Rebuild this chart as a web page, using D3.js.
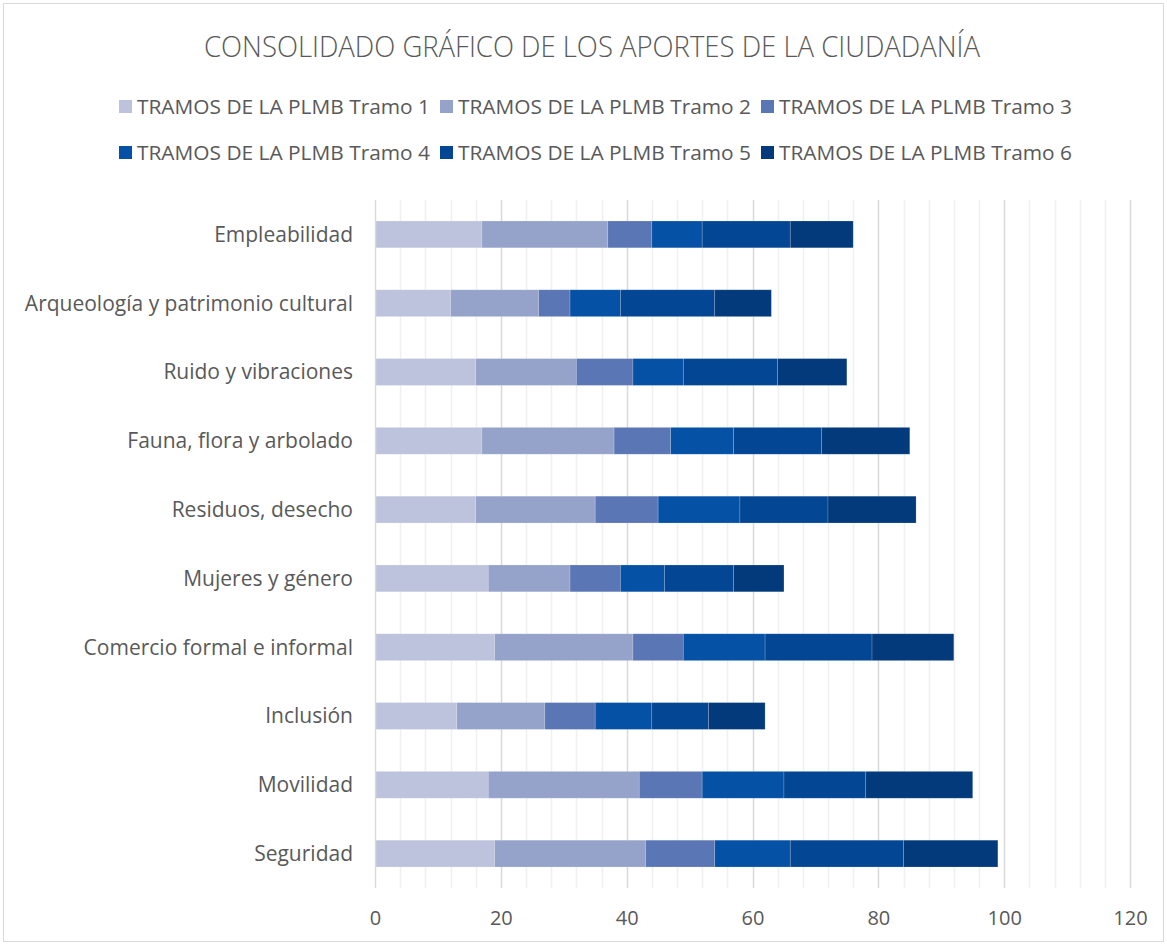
<!DOCTYPE html>
<html>
<head>
<meta charset="utf-8">
<script src="https://cdn.jsdelivr.net/npm/d3@7"></script>
<style>
  html, body { margin: 0; padding: 0; background: #fff; }
  svg { display: block; }
  text { font-family: "Open Sans", "Noto Sans", sans-serif; fill: #595959; }
</style>
</head>
<body>
<svg id="chart" width="1167" height="945"></svg>
<script>
// Categories (top to bottom) and contributions per tramo
const categories = [
  "Empleabilidad",
  "Arqueología y patrimonio cultural",
  "Ruido y vibraciones",
  "Fauna, flora y arbolado",
  "Residuos, desecho",
  "Mujeres y género",
  "Comercio formal e informal",
  "Inclusión",
  "Movilidad",
  "Seguridad"
];
const seriesNames = [
  "TRAMOS DE LA PLMB Tramo 1",
  "TRAMOS DE LA PLMB Tramo 2",
  "TRAMOS DE LA PLMB Tramo 3",
  "TRAMOS DE LA PLMB Tramo 4",
  "TRAMOS DE LA PLMB Tramo 5",
  "TRAMOS DE LA PLMB Tramo 6"
];
const tramo1 = [17, 12, 16, 17, 16, 18, 19, 13, 18, 19];
const tramo2 = [20, 14, 16, 21, 19, 13, 22, 14, 24, 24];
const tramo3 = [7, 5, 9, 9, 10, 8, 8, 8, 10, 11];
const tramo4 = [8, 8, 8, 10, 13, 7, 13, 9, 13, 12];
const tramo5 = [14, 15, 15, 14, 14, 11, 17, 9, 13, 18];
const tramo6 = [10, 9, 11, 14, 14, 8, 13, 9, 17, 15];
const xTicks = [0, 20, 40, 60, 80, 100, 120];
const colors = ["#BDC3DC", "#95A3CB", "#5B76B5", "#0451A5", "#034694", "#023A7B"];

const title = "CONSOLIDADO GRÁFICO DE LOS APORTES DE LA CIUDADANÍA";

const rows = categories.map((c, i) => ({
  cat: c,
  t0: tramo1[i], t1: tramo2[i], t2: tramo3[i], t3: tramo4[i], t4: tramo5[i], t5: tramo6[i]
}));
const keys = ["t0", "t1", "t2", "t3", "t4", "t5"];
const stacked = d3.stack().keys(keys)(rows);

const svg = d3.select("#chart");
const W = 1167, H = 945;

// chart frame
svg.append("rect")
  .attr("x", 3.5).attr("y", 3.5).attr("width", W - 7).attr("height", H - 7)
  .attr("fill", "#fff").attr("stroke", "#d9d9d9").attr("stroke-width", 1);

const plot = { left: 375, right: 1130, top: 200, bottom: 888 };

const x = d3.scaleLinear().domain([0, 120]).range([plot.left, plot.right]);
const y = d3.scaleBand().domain(categories).range([plot.top, plot.bottom]).paddingInner(0.61).paddingOuter(0.305);

// minor gridlines every 4
const minor = d3.range(4, 121, 4);
svg.append("g").selectAll("line").data(minor.filter(v => v % 20 !== 0)).join("line")
  .attr("x1", d => Math.round(x(d)) + 0.5).attr("x2", d => Math.round(x(d)) + 0.5)
  .attr("y1", plot.top).attr("y2", plot.bottom)
  .attr("stroke", "#f0f0f0").attr("stroke-width", 1.5);
// major gridlines
svg.append("g").selectAll("line").data(xTicks.filter(v => v > 0)).join("line")
  .attr("x1", d => Math.round(x(d)) + 0.5).attr("x2", d => Math.round(x(d)) + 0.5)
  .attr("y1", plot.top).attr("y2", plot.bottom)
  .attr("stroke", "#d9d9d9").attr("stroke-width", 1.5);

// bars
svg.append("g").selectAll("g").data(stacked).join("g")
  .attr("fill", (d, i) => colors[i])
  .selectAll("rect").data(d => d).join("rect")
  .attr("x", d => x(d[0]))
  .attr("width", d => x(d[1]) - x(d[0]))
  .attr("y", d => y(d.data.cat))
  .attr("height", y.bandwidth())
  .attr("stroke", "rgba(255,255,255,0.25)")
  .attr("stroke-width", 0.7);

// vertical axis line
svg.append("line")
  .attr("x1", plot.left + 0.5).attr("x2", plot.left + 0.5)
  .attr("y1", plot.top).attr("y2", plot.bottom)
  .attr("stroke", "#d9d9d9").attr("stroke-width", 1.5);

// x tick labels
const xAxis = d3.axisBottom(x).tickValues(xTicks).tickSize(0).tickPadding(0);
const gx = svg.append("g").attr("transform", `translate(0,${plot.bottom})`).call(xAxis);
gx.select(".domain").remove();
gx.selectAll("text")
  .attr("y", 30).attr("dy", "0.35em")
  .style("font-size", "20px").style("fill", "#595959")
  .style("font-family", '"Open Sans", sans-serif');

// category labels
const yAxis = d3.axisLeft(y).tickSize(0).tickPadding(0);
const gy = svg.append("g").attr("transform", `translate(353,0)`).call(yAxis);
gy.select(".domain").remove();
gy.selectAll("text")
  .attr("x", 0).attr("dy", "0.35em")
  .style("font-size", "21px").style("fill", "#595959")
  .style("font-family", '"Open Sans", sans-serif');

// title
svg.append("text")
  .attr("x", 592).attr("y", 47).attr("dy", "0.35em")
  .attr("text-anchor", "middle")
  .attr("textLength", 776).attr("lengthAdjust", "spacingAndGlyphs")
  .style("font-size", "29px").style("font-weight", 300)
  .text(title);

// legend: two rows of three entries
const legendX = [119, 440, 761];
const legendY = [107, 153];
const leg = svg.append("g");
seriesNames.forEach((name, i) => {
  const lx = legendX[i % 3], ly = legendY[Math.floor(i / 3)];
  leg.append("rect")
    .attr("x", lx).attr("y", ly - 7).attr("width", 13).attr("height", 13)
    .attr("fill", colors[i]);
  leg.append("text")
    .attr("x", lx + 18).attr("y", ly).attr("dy", "0.35em")
    .attr("textLength", 293).attr("lengthAdjust", "spacingAndGlyphs")
    .style("font-size", "20px")
    .text(name);
});
</script>
</body>
</html>
